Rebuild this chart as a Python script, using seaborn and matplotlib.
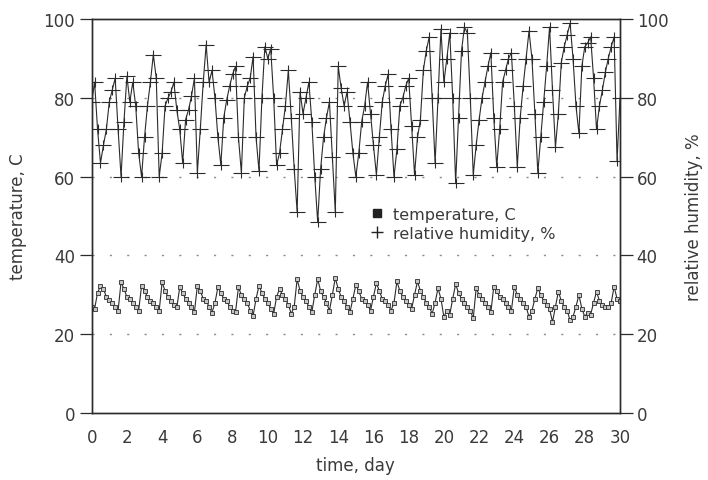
import numpy as np
import pandas as pd
import matplotlib
matplotlib.use("Agg")
import matplotlib.pyplot as plt
from matplotlib.lines import Line2D
from matplotlib.path import Path
import seaborn as sns

# ---- data (6 readings per day, day 0 .. 30) ----
temperature = [
    26.8, 26.5, 30.5, 32.3, 31.5, 29.5,
    28.8, 28.0, 27.0, 26.0, 33.2, 31.5,
    29.5, 29.0, 28.0, 27.0, 26.0, 32.3,
    31.0, 29.5, 28.5, 28.0, 27.0, 26.0,
    33.2, 31.0, 29.5, 28.5, 27.5, 26.8,
    31.9, 30.5, 29.0, 28.0, 27.0, 25.6,
    32.3, 31.0, 29.0, 28.5, 27.0, 25.5,
    28.0, 31.9, 30.5, 29.0, 28.5, 27.0,
    26.0, 25.6, 31.9, 30.0, 29.0, 28.0,
    26.0, 24.7, 29.0, 32.3, 30.5, 29.0,
    28.0, 26.5, 25.2, 29.5, 31.5, 30.0,
    29.0, 27.5, 25.2, 27.0, 34.0, 31.0,
    29.5, 28.5, 27.0, 25.6, 30.0, 34.0,
    31.0, 29.5, 28.0, 26.0, 30.0, 34.3,
    31.5, 29.5, 28.5, 27.0, 25.6, 29.0,
    32.5, 31.0, 29.0, 28.5, 27.5, 26.0,
    29.5, 33.0, 31.0, 29.0, 28.5, 27.5,
    26.0, 28.0, 33.4, 31.0, 29.5, 28.5,
    27.5, 26.4, 30.0, 33.4, 31.0, 29.5,
    28.0, 27.0, 25.2, 28.0, 31.7, 29.0,
    24.4, 26.0, 25.0, 29.0, 32.7, 30.5,
    29.0, 28.0, 27.0, 26.0, 24.0, 31.7,
    30.0, 29.0, 28.0, 27.0, 25.6, 32.1,
    31.0, 29.5, 29.0, 28.0, 27.0, 26.0,
    32.1, 30.0, 29.0, 28.0, 27.0, 24.4,
    26.0, 29.0, 31.7, 30.0, 28.5, 27.5,
    26.5, 23.1, 27.0, 30.8, 28.5, 27.0,
    26.0, 23.5, 24.5, 27.0, 30.0, 26.5,
    24.5, 25.5, 25.0, 28.0, 30.8, 28.5,
    27.5, 27.0, 26.8, 28.0, 32.1, 29.0,
    28.5,
]

humidity = [
    79.0, 84.0, 72.0, 63.5, 68.0, 72.0,
    79.0, 82.0, 85.0, 72.0, 60.0, 74.0,
    85.5, 79.0, 84.0, 78.0, 66.0, 60.0,
    70.0, 78.0, 84.0, 91.0, 85.0, 60.0,
    66.0, 78.0, 80.0, 81.5, 84.0, 77.0,
    72.0, 63.5, 74.5, 77.0, 80.5, 85.0,
    61.0, 72.0, 84.0, 93.5, 84.0, 87.0,
    80.0, 70.0, 63.0, 75.0, 79.5, 83.0,
    86.0, 88.0, 70.0, 61.0, 80.0, 83.0,
    85.0, 90.5, 70.0, 61.5, 80.0, 93.0,
    90.0, 92.5, 80.0, 63.0, 66.0, 72.0,
    78.0, 87.0, 75.0, 62.0, 51.0, 81.5,
    76.0, 80.0, 84.0, 74.0, 60.0, 48.5,
    62.0, 70.0, 75.0, 79.0, 65.0, 51.0,
    88.0, 82.5, 78.0, 81.5, 74.0, 66.0,
    60.0, 66.0, 74.0, 78.0, 84.0, 76.0,
    68.0, 60.5, 70.0, 79.0, 83.0, 86.0,
    72.0, 60.0, 67.0, 78.0, 80.0, 83.0,
    85.0, 73.0, 60.5, 70.0, 74.5, 87.0,
    92.0, 95.5, 80.0, 63.5, 80.0, 97.5,
    84.0, 90.0, 96.5, 80.0, 58.5, 75.0,
    92.0, 98.0, 96.5, 80.0, 60.5, 68.0,
    74.5, 80.0, 84.0, 88.0, 91.5, 75.0,
    62.5, 72.0, 84.0, 87.0, 90.0, 91.5,
    78.0, 62.5, 75.0, 83.0, 90.0, 97.0,
    90.0, 76.0, 61.0, 70.0, 79.0, 88.0,
    98.0, 82.0, 67.5, 76.0, 89.0, 93.0,
    96.0, 99.0, 90.0, 78.0, 71.0, 88.0,
    93.0, 94.0, 95.5, 85.0, 72.0, 78.0,
    82.0, 86.5, 90.0, 93.0, 95.5, 64.0,
    80.0,
]

readings_per_day = 6
time_day = np.arange(len(humidity)) / readings_per_day

x_ticks = list(range(0, 31, 2))
y_ticks = [0, 20, 40, 60, 80, 100]

df = pd.DataFrame({"time": time_day, "temp": temperature, "rh": humidity})

# wide, flat plus marker like the original plot symbol
wide_plus = Path([(-1.0, 0.0), (1.0, 0.0), (0.0, -0.6), (0.0, 0.6)],
                 [Path.MOVETO, Path.LINETO, Path.MOVETO, Path.LINETO])

# ---- style ----
sns.set_style("white")
plt.rcParams["font.family"] = ["DejaVu Sans"]
ink = "#2b2b2b"
txt = "#3a3a3a"

fig = plt.figure(figsize=(7.08, 4.81), dpi=100)
ax = fig.add_axes([0.1295, 0.1393, 0.7462, 0.8187])
ax2 = ax.twinx()

sns.lineplot(data=df, x="time", y="temp", ax=ax, color=ink, lw=0.8,
             marker="s", markersize=3.0, markerfacecolor="#c4c4c4",
             markeredgecolor=ink, markeredgewidth=0.6)
sns.lineplot(data=df, x="time", y="rh", ax=ax2, color=ink, lw=0.8,
             marker=wide_plus, markersize=12, markeredgewidth=0.8,
             markeredgecolor=ink, markerfacecolor="none")

for a in (ax, ax2):
    a.set_xlim(0, 30)
    a.set_ylim(0, 100)
    a.set_yticks(y_ticks)
    for s in a.spines.values():
        s.set_color(ink)
        s.set_linewidth(1.0)

# dotted grid lines
for yv in [20, 40, 60, 80]:
    ax.axhline(yv, color="#8a8a8a", lw=1.0, linestyle=(0, (1.5, 11)), zorder=0)

ax.set_xticks(x_ticks)
ax.set_xticklabels([str(v) for v in x_ticks])
ax.tick_params(axis="x", direction="inout", length=10, width=0.9, color=ink,
               labelsize=12, labelcolor=txt, pad=6)
ax.tick_params(axis="y", direction="out", length=9, width=0.9, color=ink,
               labelsize=12, labelcolor=txt, pad=3)
ax2.tick_params(axis="y", direction="out", length=9, width=0.9, color=ink,
                labelsize=12, labelcolor=txt, pad=3)

ax.set_xlabel("time, day", fontsize=12, color=txt, labelpad=7)
ax.set_ylabel("temperature, C", fontsize=12, color=txt, labelpad=12)
ax2.set_ylabel("relative humidity, %", fontsize=12, color=txt, labelpad=12)

handles = [
    Line2D([], [], ls="none", marker="s", markersize=6, color="#222222"),
    Line2D([], [], ls="none", marker="+", markersize=9, markeredgewidth=1.0,
           color="#222222"),
]
ax.legend(handles, ["temperature, C", "relative humidity, %"],
          loc="upper left", bbox_to_anchor=(0.5, 0.56), frameon=False,
          fontsize=11.5, labelcolor=txt, handlelength=0.8, handletextpad=0.6,
          labelspacing=0.25)

fig.savefig("out.png", dpi=100)
